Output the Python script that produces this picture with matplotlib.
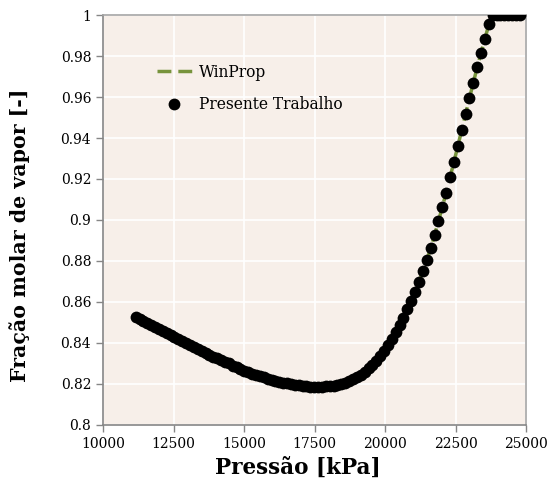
import matplotlib
matplotlib.use("Agg")
import matplotlib.pyplot as plt

# Pressão [kPa] e fração molar de vapor
pressao = [11159, 11297, 11434, 11572, 11709, 11847, 11985, 12122, 12260, 12397,
           12535, 12673, 12810, 12948, 13085, 13223, 13361, 13498, 13636, 13773,
           13911, 14049, 14186, 14324, 14461, 14599, 14737, 14874, 15012, 15149,
           15287, 15425, 15562, 15700, 15837, 15975, 16113, 16250, 16388, 16525,
           16663, 16801, 16938, 17076, 17213, 17351, 17489, 17626, 17764, 17901,
           18039, 18177, 18314, 18452, 18589, 18727, 18865, 19002, 19140, 19277,
           19415, 19553, 19690, 19828, 19965, 20103, 20241, 20378, 20516, 20653,
           20791, 20929, 21066, 21204, 21341, 21479, 21617, 21754, 21892, 22029,
           22167, 22305, 22442, 22580, 22717, 22855, 22993, 23130, 23268, 23405,
           23543, 23681, 23818, 23956, 24093, 24231, 24369, 24506, 24644, 24781]

fracao_presente = [0.8528, 0.8518, 0.8508, 0.8499, 0.8490, 0.8480, 0.8470, 0.8460, 0.8450, 0.8440,
                   0.8430, 0.8420, 0.8410, 0.8400, 0.8390, 0.8380, 0.8370, 0.8361, 0.8352, 0.8343,
                   0.8334, 0.8325, 0.8317, 0.8308, 0.8300, 0.8290, 0.8281, 0.8273, 0.8265, 0.8258,
                   0.8251, 0.8244, 0.8238, 0.8232, 0.8226, 0.8221, 0.8216, 0.8211, 0.8207, 0.8203,
                   0.8199, 0.8196, 0.8193, 0.8190, 0.8188, 0.8187, 0.8186, 0.8186, 0.8187, 0.8188,
                   0.8189, 0.8192, 0.8195, 0.8200, 0.8206, 0.8213, 0.8222, 0.8233, 0.8245, 0.8260,
                   0.8276, 0.8294, 0.8314, 0.8337, 0.8362, 0.8390, 0.8420, 0.8452, 0.8487, 0.8524,
                   0.8564, 0.8605, 0.8650, 0.8698, 0.8749, 0.8803, 0.8862, 0.8925, 0.8993, 0.9063,
                   0.9133, 0.9208, 0.9283, 0.9360, 0.9438, 0.9516, 0.9594, 0.9670, 0.9745, 0.9815,
                   0.9884, 0.9955, 1.0, 1.0, 1.0, 1.0, 1.0, 1.0, 1.0, 1.0]

fracao_winprop = list(fracao_presente)

xticks = [10000, 12500, 15000, 17500, 20000, 22500, 25000]
yticks = [0.8, 0.82, 0.84, 0.86, 0.88, 0.9, 0.92, 0.94, 0.96, 0.98, 1.0]
ytick_labels = ["0.8", "0.82", "0.84", "0.86", "0.88", "0.9", "0.92", "0.94", "0.96", "0.98", "1"]

plt.rcParams['font.family'] = ['DejaVu Serif']

fig = plt.figure(figsize=(5.52, 4.92), dpi=100)
ax = fig.add_axes([0.1866, 0.1362, 0.7664, 0.8333])
ax.set_facecolor('#f7efe9')

ax.plot(pressao, fracao_winprop, color='#77933c', lw=2.5, ls=(0, (4, 2)), label='WinProp', zorder=2)
ax.plot(pressao, fracao_presente, 'o', color='black', ms=8.5, mew=0, label='Presente Trabalho', zorder=3)

ax.set_xlim(10000, 25000)
ax.set_ylim(0.8, 1.0)
ax.set_xticks(xticks)
ax.set_yticks(yticks)
ax.set_yticklabels(ytick_labels)
ax.grid(True, color='white', lw=1.2)
ax.set_axisbelow(True)

for s in ax.spines.values():
    s.set_color('#a6a6a6')
    s.set_linewidth(1.2)
ax.spines['left'].set_color('#868686')
ax.spines['bottom'].set_color('#868686')
ax.tick_params(colors='#868686', labelcolor='black', labelsize=10, length=5, width=1)

ax.set_xlabel('Pressão [kPa]', fontsize=15.5, fontweight='bold')
ax.set_ylabel('Fração molar de vapor [-]', fontsize=14.8, fontweight='bold')
ax.xaxis.set_label_coords(0.461, -0.078)
ax.yaxis.set_label_coords(-0.172, 0.463)

leg = ax.legend(loc='upper left', bbox_to_anchor=(0.094, 0.915), frameon=False, fontsize=11.2,
                handlelength=2.25, handletextpad=0.45, labelspacing=1.0)

fig.savefig('out.png', dpi=100)
